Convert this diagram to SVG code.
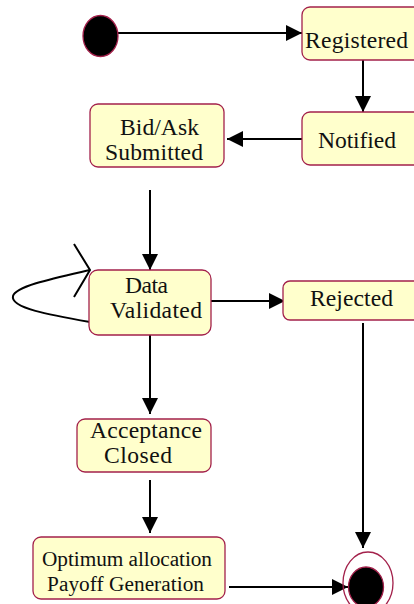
<svg xmlns="http://www.w3.org/2000/svg" width="414" height="604" viewBox="0 0 414 604">
<defs>
<style>
.box{fill:#ffffcc;stroke:#a3214b;stroke-width:1.3}
.t{font-family:"Liberation Serif","Times New Roman",serif;font-size:23.6px;fill:#111}
.s{font-size:21.3px}
.c{fill:none;stroke:#000;stroke-width:2}
</style>
<marker id="ah" viewBox="0 0 16 16" refX="16" refY="8" markerWidth="16" markerHeight="16" markerUnits="userSpaceOnUse" orient="auto">
<path d="M0,0 L16,8 L0,16 Z" fill="#000"/>
</marker>
</defs>
<rect width="414" height="604" fill="#fff"/>
<g id="connectors">
<line class="c" x1="118" y1="33" x2="302" y2="33" marker-end="url(#ah)"/>
<line class="c" x1="363" y1="60" x2="363" y2="112" marker-end="url(#ah)"/>
<line class="c" x1="302" y1="139" x2="227" y2="139" marker-end="url(#ah)"/>
<line class="c" x1="150" y1="190" x2="150" y2="270" marker-end="url(#ah)"/>
<path class="c" d="M90,322 C50,315 10,308 13,296 C16,286 55,278 90,270"/>
<polyline class="c" points="74,244 90,270 74,297"/>
<line class="c" x1="211" y1="301" x2="285" y2="301" marker-end="url(#ah)"/>
<line class="c" x1="363" y1="323" x2="363" y2="548" marker-end="url(#ah)"/>
<line class="c" x1="150" y1="335" x2="150" y2="414" marker-end="url(#ah)"/>
<line class="c" x1="150" y1="480" x2="150" y2="533" marker-end="url(#ah)"/>
<line class="c" x1="229" y1="587" x2="348" y2="587" marker-end="url(#ah)"/>
</g>
<g id="start">
<ellipse cx="100.5" cy="36" rx="17.5" ry="20.5" fill="#000" stroke="#a3214b" stroke-width="1.3"/>
</g>
<g id="registered">
<rect class="box" x="302" y="7" width="124" height="53" rx="8"/>
<text class="t" x="305" y="48" textLength="103">Registered</text>
</g>
<g id="notified">
<rect class="box" x="302" y="112" width="124" height="53" rx="8"/>
<text class="t" x="318" y="148" textLength="78">Notified</text>
</g>
<g id="bidask">
<rect class="box" x="90" y="104" width="134" height="63" rx="8"/>
<text class="t" x="120" y="135" textLength="79">Bid/Ask</text>
<text class="t" x="105" y="160" textLength="98">Submitted</text>
</g>
<g id="datavalidated">
<rect class="box" x="89" y="270" width="122" height="65" rx="9"/>
<text class="t" x="125" y="293" textLength="43">Data</text>
<text class="t" x="110" y="318" textLength="92">Validated</text>
</g>
<g id="rejected">
<rect class="box" x="283" y="281" width="143" height="39" rx="7"/>
<text class="t" x="310" y="306" textLength="83">Rejected</text>
</g>
<g id="acceptance">
<rect class="box" x="77" y="419" width="134" height="53" rx="8"/>
<text class="t" x="90" y="438" textLength="112">Acceptance</text>
<text class="t" x="104" y="463" textLength="68">Closed</text>
</g>
<g id="optimum">
<rect class="box" x="33" y="537" width="192" height="62" rx="8"/>
<text class="t s" x="42" y="566" textLength="170">Optimum allocation</text>
<text class="t s" x="47" y="591" textLength="157">Payoff Generation</text>
</g>
<g id="end">
<ellipse cx="368" cy="583" rx="25" ry="31" fill="none" stroke="#a3214b" stroke-width="1.3"/>
<ellipse cx="366" cy="587" rx="17.5" ry="20" fill="#000" stroke="#a3214b" stroke-width="1.3"/>
</g>
</svg>
